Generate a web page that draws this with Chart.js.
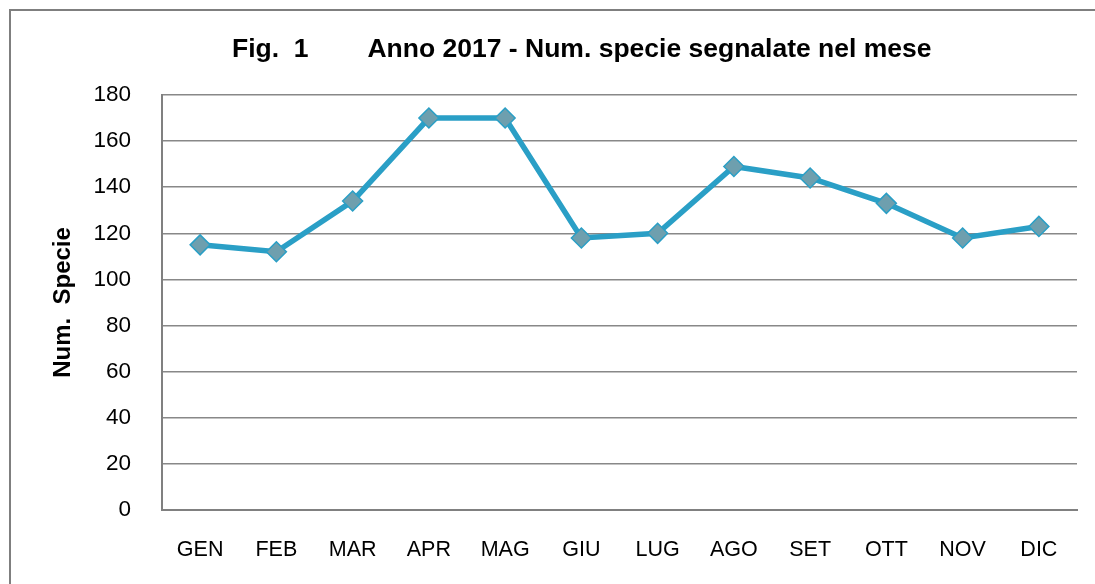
<!DOCTYPE html>
<html>
<head>
<meta charset="utf-8">
<script src="https://cdn.jsdelivr.net/npm/chart.js@4.4.0/dist/chart.umd.min.js"></script>
<style>
html,body{margin:0;padding:0;background:#fff;overflow:hidden;}
#frame{position:absolute;left:9px;top:9px;width:1200px;height:700px;border:2px solid #7f7f7f;}
#wrap{position:absolute;left:0;top:0;width:1095px;height:584px;}
</style>
</head>
<body>
<div id="frame"></div>
<div id="wrap"><canvas id="c" width="1095" height="584"></canvas></div>
<script>
const months = ['GEN','FEB','MAR','APR','MAG','GIU','LUG','AGO','SET','OTT','NOV','DIC'];
const species = [115,112,134,170,170,118,120,149,144,133,118,123];
const yTicks = [0,20,40,60,80,100,120,140,160,180];
const chartTitle = 'Fig.  1        Anno 2017 - Num. specie segnalate nel mese';
const yTitle = 'Num.  Specie';

const titlePlugin = {
  id: 'customTitle',
  afterDraw(chart) {
    const ctx = chart.ctx;
    ctx.save();
    ctx.font = 'bold 26.5px "Liberation Sans", Arial, sans-serif';
    ctx.fillStyle = '#000';
    ctx.textAlign = 'left';
    ctx.textBaseline = 'middle';
    ctx.fillText(chartTitle, 232, 50);
    ctx.restore();
  }
};

new Chart(document.getElementById('c'), {
  type: 'line',
  data: {
    labels: months,
    datasets: [{
      data: species,
      borderColor: '#2a9fc6',
      borderWidth: 5.5,
      pointStyle: 'rectRot',
      pointRadius: 10,
      pointHoverRadius: 10,
      pointBackgroundColor: '#6e9fae',
      pointBorderColor: '#2a9fc6',
      pointBorderWidth: 1.5,
      tension: 0
    }]
  },
  options: {
    responsive: false,
    animation: false,
    layout: { padding: { top: 95, left: 10, right: 18, bottom: 0 } },
    plugins: { legend: { display: false }, tooltip: { enabled: false } },
    scales: {
      x: {
        offset: true,
        grid: { display: false, drawTicks: false },
        border: { display: true, color: '#808080', width: 2 },
        ticks: { color: '#000', padding: 27, font: { family: '"Liberation Sans", Arial, sans-serif', size: 21.5 } },
        afterFit(s) { s.height = 74; }
      },
      y: {
        min: 0, max: 180,
        afterBuildTicks(s) { s.ticks = yTicks.map(v => ({ value: v })); },
        grid: { color: '#888888', lineWidth: 1.6, drawTicks: false },
        border: { display: true, color: '#808080', width: 2 },
        ticks: { color: '#000', padding: 31, font: { family: '"Liberation Sans", Arial, sans-serif', size: 22.5 } },
        title: { display: true, text: yTitle, color: '#000', padding: { top: 39, bottom: 0 },
                 font: { family: '"Liberation Sans", Arial, sans-serif', size: 24, weight: 'bold' } },
        afterFit(s) { s.width = 152; }
      }
    }
  },
  plugins: [titlePlugin]
});
</script>
</body>
</html>
